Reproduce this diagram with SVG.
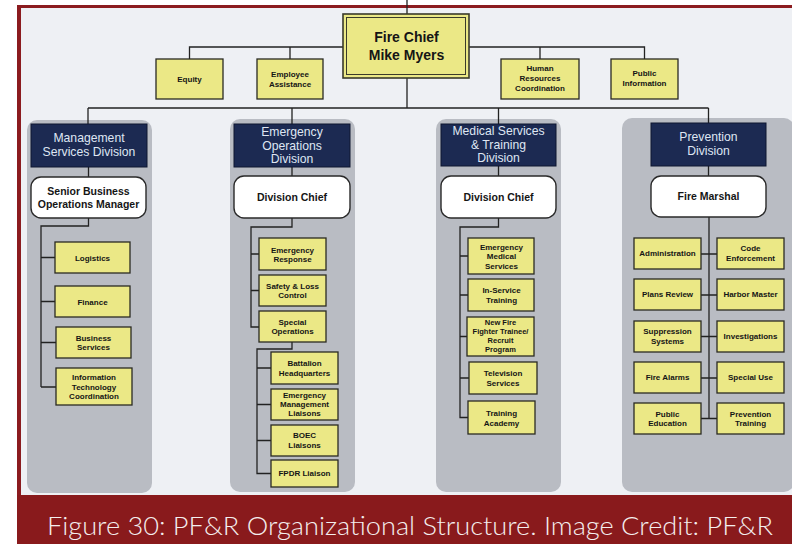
<svg xmlns="http://www.w3.org/2000/svg" width="792" height="544" viewBox="0 0 792 544">
<style>
.col{fill:#b9bcc3}
.box{fill:#ebe886;stroke:#2a2a22;stroke-width:1.3}
.navy{fill:#1c2a52;stroke:#0f1630;stroke-width:1}
.wbox{fill:#ffffff;stroke:#2a2a2a;stroke-width:1.4}
.sm{font-family:"Liberation Sans",Arial,sans-serif;font-weight:bold;font-size:8px;fill:#151515;text-anchor:middle}
.xs{font-family:"Liberation Sans",Arial,sans-serif;font-weight:bold;font-size:7.5px;fill:#151515;text-anchor:middle}
.nv{font-family:"Liberation Sans",Arial,sans-serif;font-size:12.2px;fill:#dfe6f2;text-anchor:middle}
.wt{font-family:"Liberation Sans",Arial,sans-serif;font-weight:bold;font-size:10.5px;fill:#151515;text-anchor:middle}
.ch{font-family:"Liberation Sans",Arial,sans-serif;font-weight:bold;font-size:14px;fill:#151515;text-anchor:middle}
.cap{font-family:Lato,"Open Sans",sans-serif;font-weight:300;font-size:25px;fill:#f4eeee}
#connectors path{fill:none;stroke:#222;stroke-width:1.3}
</style>
<rect x="0" y="0" width="792" height="544" fill="#ffffff"/>
<rect x="21" y="8" width="771" height="487" fill="#eef0f4"/>
<rect x="17" y="5" width="775" height="3" fill="#8b1b1f"/>
<rect x="17" y="5" width="4" height="490" fill="#8b1b1f"/>
<rect x="17" y="495" width="775" height="49" fill="#891a1c"/>

<g id="columns">
<rect class="col" x="27" y="120" width="125" height="373" rx="10"/>
<rect class="col" x="230" y="119" width="125" height="373" rx="10"/>
<rect class="col" x="436" y="119" width="125" height="373" rx="10"/>
<rect class="col" x="622" y="118" width="172" height="374" rx="10"/>
</g>

<g id="connectors">
<path d="M407,0V14M407,78V108"/>
<path d="M343,47H189.5V59M469,47H644.5V59M290,47V59M540,47V59"/>
<path d="M88,108H708.5M88,108V124M292,108V124M498.5,108V124M708.5,108V123"/>
<path d="M88.5,167V177M292,167V176M498.5,166V176M708.5,166V176"/>
<path d="M88.5,218V226H41V387M41,257.5H55M41,301.5H55M41,342.5H56M41,387H56"/>
<path d="M292,218V227H251V327H259M251,254H259M251,290.5H259"/>
<path d="M292,342V349H257V473.5H271M257,368H271M257,404.5H271M257,440.5H271"/>
<path d="M498.5,218V227H460V417.5H468M460,256H468M460,295H468M460,336.5H467M460,378H469"/>
<path d="M709,217V419M701,254H717M701,295H717M701,336.5H717M701,378H717M701,418.5H717"/>
</g>

<g id="fire-chief">
<rect x="343" y="14" width="126" height="64" fill="#ebe886" stroke="#3a3a2a" stroke-width="1.6"/>
<rect x="346.5" y="17.5" width="119" height="57" fill="none" stroke="#3a3a2a" stroke-width="1"/>
<text class="ch" x="406.5" y="42">Fire Chief</text>
<text class="ch" x="406.5" y="59.5">Mike Myers</text>
</g>
<g id="equity"><rect class="box" x="156" y="59" width="67" height="40"/><text class="sm" x="189.5" y="82">Equity</text></g>
<g id="employee-assistance"><rect class="box" x="257" y="59" width="66" height="40"/><text class="sm" x="290" y="77">Employee</text><text class="sm" x="290" y="86.5">Assistance</text></g>
<g id="human-resources"><rect class="box" x="501" y="59" width="78" height="40"/><text class="sm" x="540" y="71">Human</text><text class="sm" x="540" y="81">Resources</text><text class="sm" x="540" y="91">Coordination</text></g>
<g id="public-information"><rect class="box" x="611" y="59" width="67" height="40"/><text class="sm" x="644.5" y="76">Public</text><text class="sm" x="644.5" y="86">Information</text></g>

<g id="management-division"><rect class="navy" x="31" y="124" width="116" height="43"/><text class="nv" x="89" y="142">Management</text><text class="nv" x="89" y="156">Services Division</text></g>
<g id="emergency-division"><rect class="navy" x="234" y="124" width="116" height="43"/><text class="nv" x="292" y="136">Emergency</text><text class="nv" x="292" y="149.5">Operations</text><text class="nv" x="292" y="163">Division</text></g>
<g id="medical-division"><rect class="navy" x="441" y="124" width="115" height="42"/><text class="nv" x="498.5" y="135">Medical Services</text><text class="nv" x="498.5" y="148.5">&amp; Training</text><text class="nv" x="498.5" y="162">Division</text></g>
<g id="prevention-division"><rect class="navy" x="651" y="123" width="115" height="43"/><text class="nv" x="708.5" y="141">Prevention</text><text class="nv" x="708.5" y="155">Division</text></g>

<g id="senior-business"><rect class="wbox" x="31" y="177" width="115" height="41" rx="10"/><text class="wt" x="88.5" y="195">Senior Business</text><text class="wt" x="88.5" y="208">Operations Manager</text></g>
<g id="eo-division-chief"><rect class="wbox" x="234" y="176" width="116" height="42" rx="10"/><text class="wt" x="292" y="201">Division Chief</text></g>
<g id="ms-division-chief"><rect class="wbox" x="441" y="176" width="115" height="42" rx="10"/><text class="wt" x="498.5" y="200.5">Division Chief</text></g>
<g id="fire-marshal"><rect class="wbox" x="651" y="176" width="115" height="41" rx="10"/><text class="wt" x="708.5" y="200">Fire Marshal</text></g>

<g id="logistics"><rect class="box" x="55" y="242" width="75" height="31"/><text class="sm" x="92.5" y="260.5">Logistics</text></g>
<g id="finance"><rect class="box" x="55" y="286" width="75" height="31"/><text class="sm" x="92.5" y="304.5">Finance</text></g>
<g id="business-services"><rect class="box" x="56" y="327" width="75" height="31"/><text class="sm" x="93.5" y="341">Business</text><text class="sm" x="93.5" y="350">Services</text></g>
<g id="it-coordination"><rect class="box" x="56" y="368" width="76" height="37"/><text class="sm" x="94" y="380">Information</text><text class="sm" x="94" y="389.5">Technology</text><text class="sm" x="94" y="399">Coordination</text></g>

<g id="emergency-response"><rect class="box" x="259" y="238" width="67" height="32"/><text class="sm" x="292.5" y="252.5">Emergency</text><text class="sm" x="292.5" y="262">Response</text></g>
<g id="safety-loss"><rect class="box" x="259" y="275" width="67" height="31"/><text class="sm" x="292.5" y="288.7">Safety &amp; Loss</text><text class="sm" x="292.5" y="298">Control</text></g>
<g id="special-operations"><rect class="box" x="259" y="311" width="67" height="31"/><text class="sm" x="292.5" y="324.7">Special</text><text class="sm" x="292.5" y="334">Operations</text></g>
<g id="battalion-hq"><rect class="box" x="271" y="352" width="67" height="32"/><text class="sm" x="304.5" y="366.3">Battalion</text><text class="sm" x="304.5" y="375.7">Headquarters</text></g>
<g id="em-liaisons"><rect class="box" x="271" y="389" width="67" height="31"/><text class="sm" x="304.5" y="398">Emergency</text><text class="sm" x="304.5" y="407.3">Management</text><text class="sm" x="304.5" y="416.3">Liaisons</text></g>
<g id="boec-liaisons"><rect class="box" x="271" y="425" width="67" height="31"/><text class="sm" x="304.5" y="438">BOEC</text><text class="sm" x="304.5" y="448">Liaisons</text></g>
<g id="fpdr-liaison"><rect class="box" x="271" y="460" width="67" height="27"/><text class="sm" x="304.5" y="476.3">FPDR Liaison</text></g>

<g id="ems"><rect class="box" x="468" y="238" width="66" height="36"/><text class="sm" x="501.5" y="249.7">Emergency</text><text class="sm" x="501.5" y="259">Medical</text><text class="sm" x="501.5" y="268.7">Services</text></g>
<g id="in-service"><rect class="box" x="468" y="279" width="66" height="32"/><text class="sm" x="501.5" y="293">In-Service</text><text class="sm" x="501.5" y="303">Training</text></g>
<g id="new-ff"><rect class="box" x="467" y="317" width="67" height="39"/><text class="xs" x="500.5" y="325">New Fire</text><text class="xs" x="500.5" y="334.4">Fighter Trainee/</text><text class="xs" x="500.5" y="343.4">Recruit</text><text class="xs" x="500.5" y="352">Program</text></g>
<g id="television"><rect class="box" x="469" y="362" width="68" height="32"/><text class="sm" x="503" y="375.7">Television</text><text class="sm" x="503" y="385.7">Services</text></g>
<g id="training-academy"><rect class="box" x="468" y="401" width="67" height="33"/><text class="sm" x="501.5" y="416.3">Training</text><text class="sm" x="501.5" y="425.7">Academy</text></g>

<g id="administration"><rect class="box" x="634" y="238" width="67" height="31"/><text class="sm" x="667.5" y="256.3">Administration</text></g>
<g id="code-enforcement"><rect class="box" x="717" y="238" width="67" height="31"/><text class="sm" x="750.5" y="251.3">Code</text><text class="sm" x="750.5" y="260.7">Enforcement</text></g>
<g id="plans-review"><rect class="box" x="634" y="279" width="67" height="31"/><text class="sm" x="667.5" y="297.3">Plans Review</text></g>
<g id="harbor-master"><rect class="box" x="717" y="279" width="67" height="31"/><text class="sm" x="750.5" y="297.3">Harbor Master</text></g>
<g id="suppression-systems"><rect class="box" x="634" y="321" width="67" height="31"/><text class="sm" x="667.5" y="334">Suppression</text><text class="sm" x="667.5" y="343.7">Systems</text></g>
<g id="investigations"><rect class="box" x="717" y="321" width="67" height="31"/><text class="sm" x="750.5" y="339">Investigations</text></g>
<g id="fire-alarms"><rect class="box" x="634" y="362" width="67" height="31"/><text class="sm" x="667.5" y="380.3">Fire Alarms</text></g>
<g id="special-use"><rect class="box" x="717" y="362" width="67" height="31"/><text class="sm" x="750.5" y="380.3">Special Use</text></g>
<g id="public-education"><rect class="box" x="634" y="403" width="67" height="31"/><text class="sm" x="667.5" y="417">Public</text><text class="sm" x="667.5" y="426.3">Education</text></g>
<g id="prevention-training"><rect class="box" x="717" y="403" width="67" height="31"/><text class="sm" x="750.5" y="417">Prevention</text><text class="sm" x="750.5" y="426.3">Training</text></g>

<text class="cap" x="47" y="534.5" textLength="726" lengthAdjust="spacingAndGlyphs">Figure 30: PF&amp;R Organizational Structure. Image Credit: PF&amp;R</text>
</svg>
